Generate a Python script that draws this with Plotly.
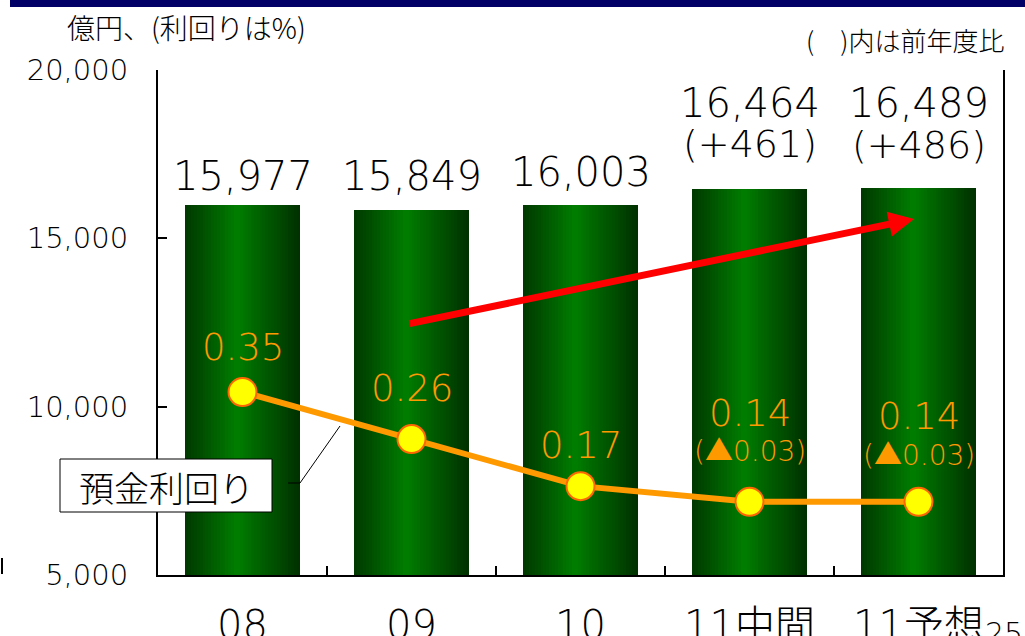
import plotly.graph_objects as go

# --- data -------------------------------------------------------------
categories = ["08", "09", "10", "11中間", "11予想"]
deposits = [15977, 15849, 16003, 16464, 16489]          # 億円
deposit_change = [None, None, None, 461, 486]           # 前年度比
yields = [0.35, 0.26, 0.17, 0.14, 0.14]                 # 預金利回り (%)
yield_change = [None, None, None, -0.03, -0.03]         # 前年度比
y_ticks = [5000, 10000, 15000, 20000]

# --- layout geometry (pixels) ----------------------------------------
W, H = 1025, 636
L, R, T, B = 158, 22, 70, 61
PW, PH = W - L - R, H - T - B

def px_x(px):
    return (px - L) / PW

def px_y(py):
    return (H - B - py) / PH

NUM_FONT = "DejaVu Sans, Noto Sans CJK JP"
JP_FONT = "Noto Sans CJK JP, DejaVu Sans"
NUM_WEIGHT = 300
ORANGE = "#FF9900"

fig = go.Figure()

# --- bars with a horizontal green shading -----------------------------
bar_w = 0.675
stops = [(0.0, (0x00, 0x38, 0x00)), (0.45, (0x00, 0x7E, 0x00)), (1.0, (0x00, 0x30, 0x00))]

def shade(t):
    for (t0, c0), (t1, c1) in zip(stops[:-1], stops[1:]):
        if t <= t1:
            f = (t - t0) / (t1 - t0)
            return "rgb({},{},{})".format(*[round(a + (b - a) * f) for a, b in zip(c0, c1)])
    return "rgb({},{},{})".format(*stops[-1][1])

n_slices = 40
step = bar_w / n_slices
for i in range(n_slices):
    off = -bar_w / 2 + i * step
    w = min(step * 1.6, bar_w / 2 - off)
    fig.add_trace(go.Bar(
        x=categories, y=deposits, width=w, offset=off,
        marker=dict(color=shade((i + 0.5) / n_slices), line=dict(width=0)),
        showlegend=False, hoverinfo="skip",
    ))

# --- yield line on secondary axis -------------------------------------
fig.add_trace(go.Scatter(
    x=categories, y=yields, yaxis="y2", mode="lines+markers",
    line=dict(color=ORANGE, width=6),
    marker=dict(size=28, color="#FFFF00", line=dict(color="#FF6600", width=2)),
    showlegend=False, hoverinfo="skip",
))

annotations = []

# value labels above bars (x given as category index)
bar_value_lift = [29, 34, 33, 86, 85]
bar_change_lift = [None, None, None, 45, 43]
for i, (v, d) in enumerate(zip(deposits, deposit_change)):
    annotations.append(dict(
        x=i, y=v, xref="x", yref="y", text=f"{v:,}", showarrow=False,
        xanchor="center", yanchor="middle", yshift=bar_value_lift[i],
        font=dict(family=NUM_FONT, size=40, color="black", weight=NUM_WEIGHT),
    ))
    if d is not None:
        annotations.append(dict(
            x=i, y=v, xref="x", yref="y", text=f"(+{d})", showarrow=False,
            xanchor="center", yanchor="middle", yshift=bar_change_lift[i],
            font=dict(family=NUM_FONT, size=38, color="black", weight=NUM_WEIGHT),
        ))

# value labels above yield points
yield_value_lift = [45, 51, 41, 88, 85]
yield_change_lift = [None, None, None, 50, 46]
for i, (r, d) in enumerate(zip(yields, yield_change)):
    annotations.append(dict(
        x=i, y=r, xref="x", yref="y2", text=f"{r:.2f}", showarrow=False,
        xanchor="center", yanchor="middle", yshift=yield_value_lift[i],
        font=dict(family=NUM_FONT, size=37, color=ORANGE, weight=NUM_WEIGHT),
    ))
    if d is not None:
        annotations.append(dict(
            x=i, y=r, xref="x", yref="y2", text=f"(▲{abs(d):.2f})", showarrow=False,
            xanchor="center", yanchor="middle", yshift=yield_change_lift[i],
            font=dict(family=NUM_FONT, size=28, color=ORANGE, weight=NUM_WEIGHT),
        ))

# unit and note texts
annotations.append(dict(
    x=px_x(186), y=px_y(27), xref="paper", yref="paper",
    xanchor="center", yanchor="middle",
    text="億円、(利回りは%)", showarrow=False,
    font=dict(family=JP_FONT, size=28, color="black", weight=NUM_WEIGHT),
))
annotations.append(dict(
    x=px_x(1006), y=px_y(40), xref="paper", yref="paper",
    xanchor="right", yanchor="middle",
    text="(　)内は前年度比", showarrow=False,
    font=dict(family=JP_FONT, size=26, color="black", weight=NUM_WEIGHT),
))

# callout label for the yield line
annotations.append(dict(
    x=px_x(166), y=px_y(486), xref="paper", yref="paper",
    xanchor="center", yanchor="middle",
    text="預金利回り", showarrow=False,
    font=dict(family=JP_FONT, size=35, color="black", weight=NUM_WEIGHT),
))

# upward trend arrow
annotations.append(dict(
    x=px_x(914), y=px_y(219), xref="paper", yref="paper",
    ax=408 - 914, ay=324 - 219, axref="pixel", ayref="pixel",
    text="", showarrow=True, arrowhead=2, arrowsize=0.72,
    arrowwidth=7, arrowcolor="#FF0000", standoff=0,
))

# page number
annotations.append(dict(
    x=px_x(983), y=px_y(614), xref="paper", yref="paper",
    xanchor="left", yanchor="top", text="25", showarrow=False,
    font=dict(family=NUM_FONT, size=30, color="black", weight=NUM_WEIGHT),
))

shapes = [
    # header band
    dict(type="rect", xref="paper", yref="paper",
         x0=px_x(10), x1=px_x(W + 5), y0=px_y(7), y1=px_y(-5),
         fillcolor="#000066", line=dict(width=0), layer="above"),
    # callout box and leader line
    dict(type="rect", xref="paper", yref="paper",
         x0=px_x(60), x1=px_x(272), y0=px_y(512), y1=px_y(459),
         fillcolor="white", line=dict(color="black", width=1), layer="above"),
    dict(type="path", xref="paper", yref="paper",
         path=f"M {px_x(288)},{px_y(483)} L {px_x(300)},{px_y(483)} L {px_x(340)},{px_y(426)}",
         line=dict(color="black", width=1), layer="above"),
    # small mark at the left edge
    dict(type="line", xref="paper", yref="paper",
         x0=px_x(2), x1=px_x(2), y0=px_y(558), y1=px_y(574),
         line=dict(color="black", width=2)),
]

fig.update_layout(
    width=W, height=H,
    margin=dict(l=L, r=R, t=T, b=B, pad=0),
    paper_bgcolor="white", plot_bgcolor="white",
    barmode="overlay", bargap=0,
    showlegend=False,
    xaxis=dict(
        type="category", range=[-0.5, 4.5], automargin=False,
        showline=True, linecolor="black", linewidth=2,
        ticks="inside", tickson="boundaries", ticklen=9, tickwidth=2, tickcolor="black",
        showgrid=False, zeroline=False,
        tickfont=dict(family=NUM_FONT, size=40, color="black", weight=NUM_WEIGHT),
        ticklabelstandoff=14,
    ),
    yaxis=dict(
        range=[5000, 20000], tickvals=y_ticks, automargin=False,
        ticktext=[f"{v:,}" for v in y_ticks],
        showline=True, linecolor="black", linewidth=2,
        ticks="inside", ticklen=9, tickwidth=2, tickcolor="black",
        showgrid=False, zeroline=False,
        tickfont=dict(family=NUM_FONT, size=29, color="black", weight=NUM_WEIGHT),
        ticklabelstandoff=22,
    ),
    yaxis2=dict(
        overlaying="y", side="right", range=[0, 0.966], automargin=False,
        showline=True, linecolor="black", linewidth=2,
        showticklabels=False, ticks="", showgrid=False, zeroline=False,
    ),
    annotations=annotations,
    shapes=shapes,
)

fig.write_html("out.html")
